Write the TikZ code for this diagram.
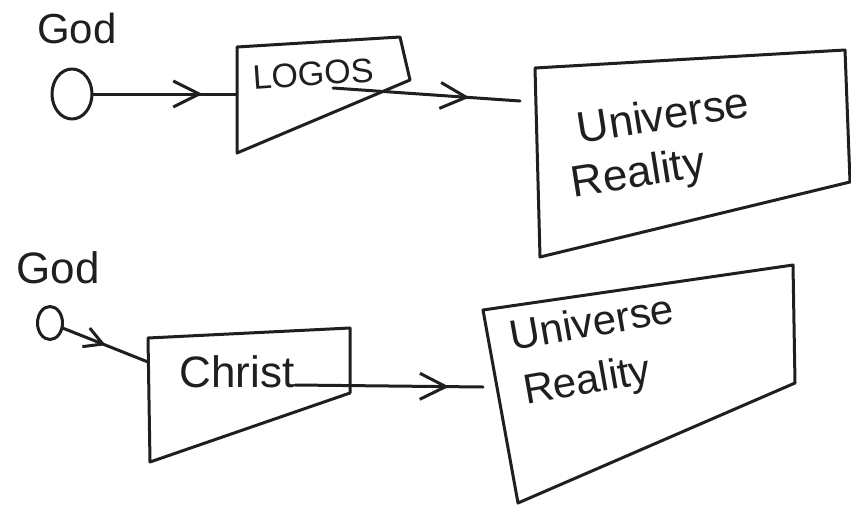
\documentclass[tikz,border=0pt]{standalone}
\usepackage{fontspec}
\setmainfont{Liberation Sans}
\usetikzlibrary{arrows.meta,decorations.markings,shapes.geometric}
\begin{document}
\begin{tikzpicture}[x=1pt,y=-1pt,
  ink/.style={line width=3pt, line join=round, line cap=round, draw=black!88},
  lbl/.style={font=\fontsize{#1}{#1}\selectfont, inner sep=0pt, text=black!88},
  godnode/.style={ink, ellipse, inner sep=0pt},
  midarrow/.style={postaction={decorate}, decoration={markings, mark=at position #1 with {\arrow[line width=3pt,black!88]{Straight Barb[length=26pt,width=26pt]}}}},
  smallarrow/.style={postaction={decorate}, decoration={markings, mark=at position #1 with {\arrow[line width=3pt,black!88]{Straight Barb[length=18pt,width=20pt]}}}}
]
\useasboundingbox (0,0) rectangle (851,511);

% ---------- top row ----------
\node[lbl=42] (godA) at (77,28) {God};
\node[godnode, minimum width=40pt, minimum height=50pt] (circA) at (72,94) {};

\coordinate (L1) at (237,47);
\coordinate (L2) at (400,37);
\coordinate (L3) at (410,80);
\coordinate (L4) at (237,153);
\draw[ink] (L1) -- (L2) -- (L3) -- (L4) -- cycle;
\node[lbl=34, rotate=4] (logos) at (313,74) {LOGOS};

\coordinate (U1) at (535,68);
\coordinate (U2) at (845,50);
\coordinate (U3) at (850,182);
\coordinate (U4) at (540,257);
\draw[ink] (U1) -- (U2) -- (U3) -- (U4) -- cycle;
\node[lbl=44, rotate=9, anchor=west] (univA) at (577,128) {Universe};
\node[lbl=44, rotate=9, anchor=west] (realA) at (572,186) {Reality};

\draw[ink, midarrow=0.76] (circA) -- (circA -| L1);
\coordinate (a2s) at (333,88);
\coordinate (a2e) at (520,101);
\draw[ink, midarrow=0.73] (a2s) -- (a2e);

% ---------- bottom row ----------
\node[lbl=44] (godB) at (58,268) {God};
\node[godnode, minimum width=25pt, minimum height=33pt] (circB) at (50,323) {};

\coordinate (C1) at (148,338);
\coordinate (C2) at (350,328);
\coordinate (C3) at (350,393);
\coordinate (C4) at (150,462);
\draw[ink] (C1) -- (C2) -- (C3) -- (C4) -- cycle;
\node[lbl=44] (christ) at (237,372) {Christ};

\coordinate (V1) at (483,310);
\coordinate (V2) at (793,265);
\coordinate (V3) at (795,383);
\coordinate (V4) at (518,503);
\draw[ink] (V1) -- (V2) -- (V3) -- (V4) -- cycle;
\node[lbl=42, rotate=10, anchor=west] (univB) at (510,336) {Universe};
\node[lbl=42, rotate=10, anchor=west] (realB) at (524,394) {Reality};

\coordinate (a3e) at (148,362);
\draw[ink, smallarrow=0.5] (circB) -- (a3e);
\coordinate (a4s) at (295,385);
\coordinate (a4e) at (483,387);
\draw[ink, midarrow=0.82] (a4s) -- (a4e);
\end{tikzpicture}
\end{document}
